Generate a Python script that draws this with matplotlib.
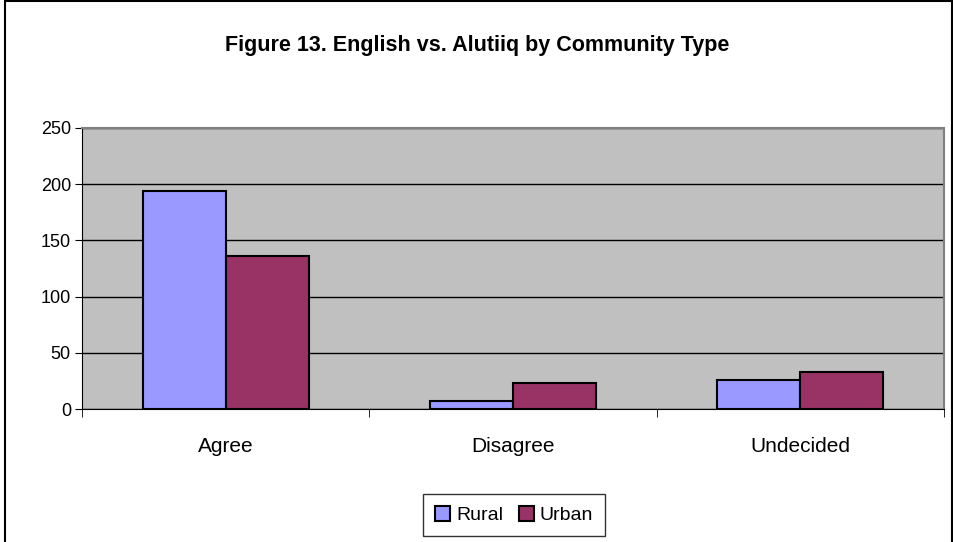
import matplotlib
matplotlib.use("Agg")
import matplotlib.pyplot as plt
from matplotlib.patches import Rectangle
import numpy as np

categories = ["Agree", "Disagree", "Undecided"]
rural = [194, 7, 26]
urban = [136, 23, 33]
series_names = ["Rural", "Urban"]
y_ticks = [0, 50, 100, 150, 200, 250]

plt.rcParams["font.family"] = ["Liberation Sans", "DejaVu Sans"]

fig = plt.figure(figsize=(9.54, 5.42), dpi=100)
ax = fig.add_axes([82 / 954, 1 - 409 / 542, (944 - 82) / 954, (409 - 128) / 542])

x = np.arange(len(categories))
w = 0.289
ax.bar(x - w / 2, rural, w, color="#9999FF", edgecolor="black", linewidth=1.5,
       label=series_names[0], zorder=3)
ax.bar(x + w / 2, urban, w, color="#993366", edgecolor="black", linewidth=1.5,
       label=series_names[1], zorder=3)

ax.set_facecolor("#C0C0C0")
ax.set_xlim(-0.5, len(categories) - 0.5)
ax.set_ylim(0, 250)
ax.set_yticks(y_ticks)
ax.set_yticklabels([str(t) for t in y_ticks], fontsize=13)
ax.yaxis.grid(True, color="black", linewidth=1, zorder=1)
ax.set_axisbelow(True)

ax.set_xticks(x)
ax.set_xticklabels(categories, fontsize=15)
ax.tick_params(axis="x", length=0, pad=20)
ax.set_xticks(np.arange(len(categories) + 1) - 0.5, minor=True)
ax.tick_params(axis="x", which="minor", length=6, direction="out", color="black")
ax.tick_params(axis="y", length=5, direction="out", pad=3)

for s in ["top", "right"]:
    ax.spines[s].set_color("#808080")
    ax.spines[s].set_linewidth(1.5)
ax.spines["left"].set_color("black")
ax.spines["bottom"].set_color("black")

fig.text(0.5, 1 - 45 / 542, "Figure 13. English vs. Alutiiq by Community Type",
         ha="center", va="center", fontsize=15.5, fontweight="bold")

leg = fig.legend(loc="center", bbox_to_anchor=(514 / 954, 1 - 515 / 542), ncol=2,
                 fontsize=14, frameon=True, fancybox=False, handlelength=0.8,
                 handleheight=0.8, handletextpad=0.3, columnspacing=0.8,
                 borderpad=0.6, borderaxespad=0)
leg.get_frame().set_edgecolor("black")
leg.get_frame().set_linewidth(1)

# outer border of the chart area
fig.patches.append(Rectangle((5 / 954, -0.01), 1 - 7 / 954, 1 - 1 / 542 + 0.01,
                             transform=fig.transFigure, fill=False,
                             edgecolor="black", linewidth=1.5))

fig.savefig("out.png", dpi=100)
